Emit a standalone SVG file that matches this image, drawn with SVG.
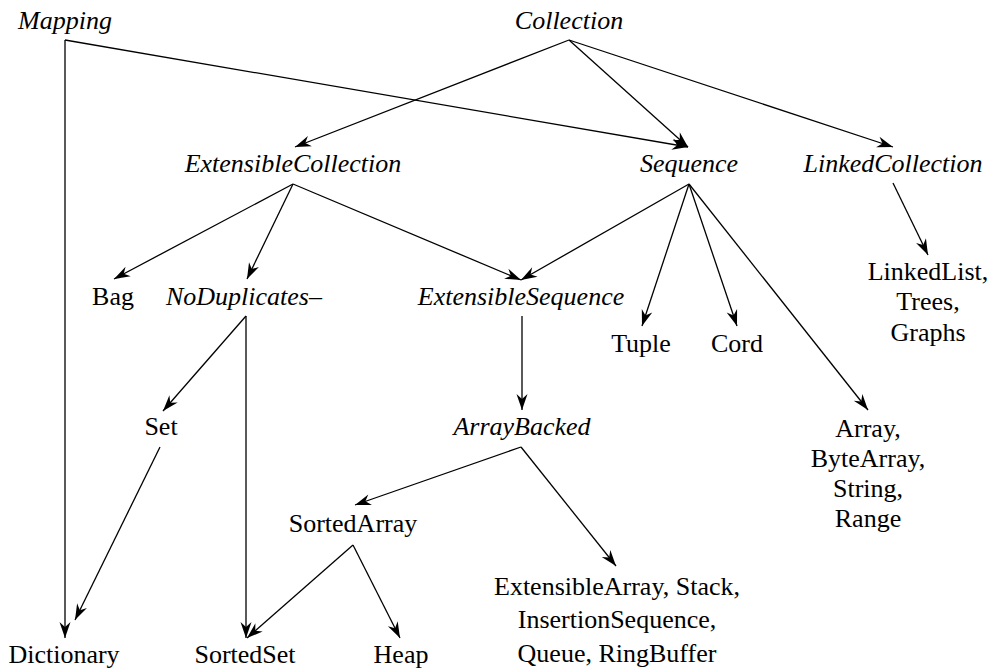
<svg xmlns="http://www.w3.org/2000/svg" width="993" height="670" viewBox="0 0 993 670">
<style>
text{font-size:26px;fill:#000;text-anchor:middle}
.i{font-style:italic}
.c line{stroke:#000;stroke-width:1.3;fill:none}
.a{marker-end:url(#ah)}
</style>
<defs>
<marker id="ah" markerUnits="userSpaceOnUse" markerWidth="20" markerHeight="14" viewBox="-17 -7 18 14" refX="0" refY="0" orient="auto" overflow="visible">
<path d="M0,0 L-16,-5.5 L-11,0 L-16,5.5 Z" fill="#000"/>
</marker>
</defs>
<rect width="993" height="670" fill="#fff"/>
<g id="connectors" class="c">
<line x1="65" y1="40" x2="65" y2="638" class="a"/>
<line x1="65" y1="40" x2="688" y2="147" class="a"/>
<line x1="569" y1="40" x2="295" y2="147" class="a"/>
<line x1="569" y1="40" x2="688" y2="147" class="a"/>
<line x1="569" y1="40" x2="893" y2="147" class="a"/>
<line x1="293" y1="184" x2="114" y2="279" class="a"/>
<line x1="293" y1="184" x2="247" y2="279" class="a"/>
<line x1="293" y1="184" x2="521" y2="280" class="a"/>
<line x1="689" y1="184" x2="521" y2="280" class="a"/>
<line x1="689" y1="184" x2="642" y2="326" class="a"/>
<line x1="689" y1="184" x2="737" y2="326" class="a"/>
<line x1="689" y1="184" x2="868" y2="410" class="a"/>
<line x1="893" y1="183" x2="928" y2="255" class="a"/>
<line x1="522" y1="316" x2="522" y2="410" class="a"/>
<line x1="246" y1="316" x2="163" y2="411" class="a"/>
<line x1="246" y1="316" x2="246" y2="638" class="a"/>
<line x1="160" y1="447" x2="75" y2="620" class="a"/>
<line x1="521" y1="447" x2="355" y2="505" class="a"/>
<line x1="521" y1="447" x2="616" y2="566" class="a"/>
<line x1="353" y1="545" x2="247" y2="638" class="a"/>
<line x1="353" y1="545" x2="400" y2="638" class="a"/>
</g>
<g font-family="Liberation Serif, Times New Roman, serif">
<g id="Mapping"><text class="i" x="65" y="29">Mapping</text></g>
<g id="Collection"><text class="i" x="569" y="29">Collection</text></g>
<g id="ExtensibleCollection"><text class="i" x="293" y="172">ExtensibleCollection</text></g>
<g id="Sequence"><text class="i" x="689" y="172">Sequence</text></g>
<g id="LinkedCollection"><text class="i" x="893" y="172">LinkedCollection</text></g>
<g id="Bag"><text x="113" y="305">Bag</text></g>
<g id="NoDuplicates"><text class="i" x="244" y="305">NoDuplicates–</text></g>
<g id="ExtensibleSequence"><text class="i" x="521" y="305">ExtensibleSequence</text></g>
<g id="Tuple"><text x="641" y="352">Tuple</text></g>
<g id="Cord"><text x="737" y="352">Cord</text></g>
<g id="LinkedList"><text x="928" y="280">LinkedList,</text><text x="928" y="310">Trees,</text><text x="928" y="341">Graphs</text></g>
<g id="Set"><text x="161" y="435">Set</text></g>
<g id="ArrayBacked"><text class="i" x="522" y="435">ArrayBacked</text></g>
<g id="Array"><text x="868" y="437">Array,</text><text x="868" y="467">ByteArray,</text><text x="868" y="497">String,</text><text x="868" y="527">Range</text></g>
<g id="SortedArray"><text x="353" y="532">SortedArray</text></g>
<g id="ExtensibleArray"><text x="617" y="595">ExtensibleArray, Stack,</text><text x="617" y="628">InsertionSequence,</text><text x="617" y="662">Queue, RingBuffer</text></g>
<g id="Dictionary"><text x="64" y="663">Dictionary</text></g>
<g id="SortedSet"><text x="245" y="663">SortedSet</text></g>
<g id="Heap"><text x="401" y="663">Heap</text></g>
</g>
</svg>
